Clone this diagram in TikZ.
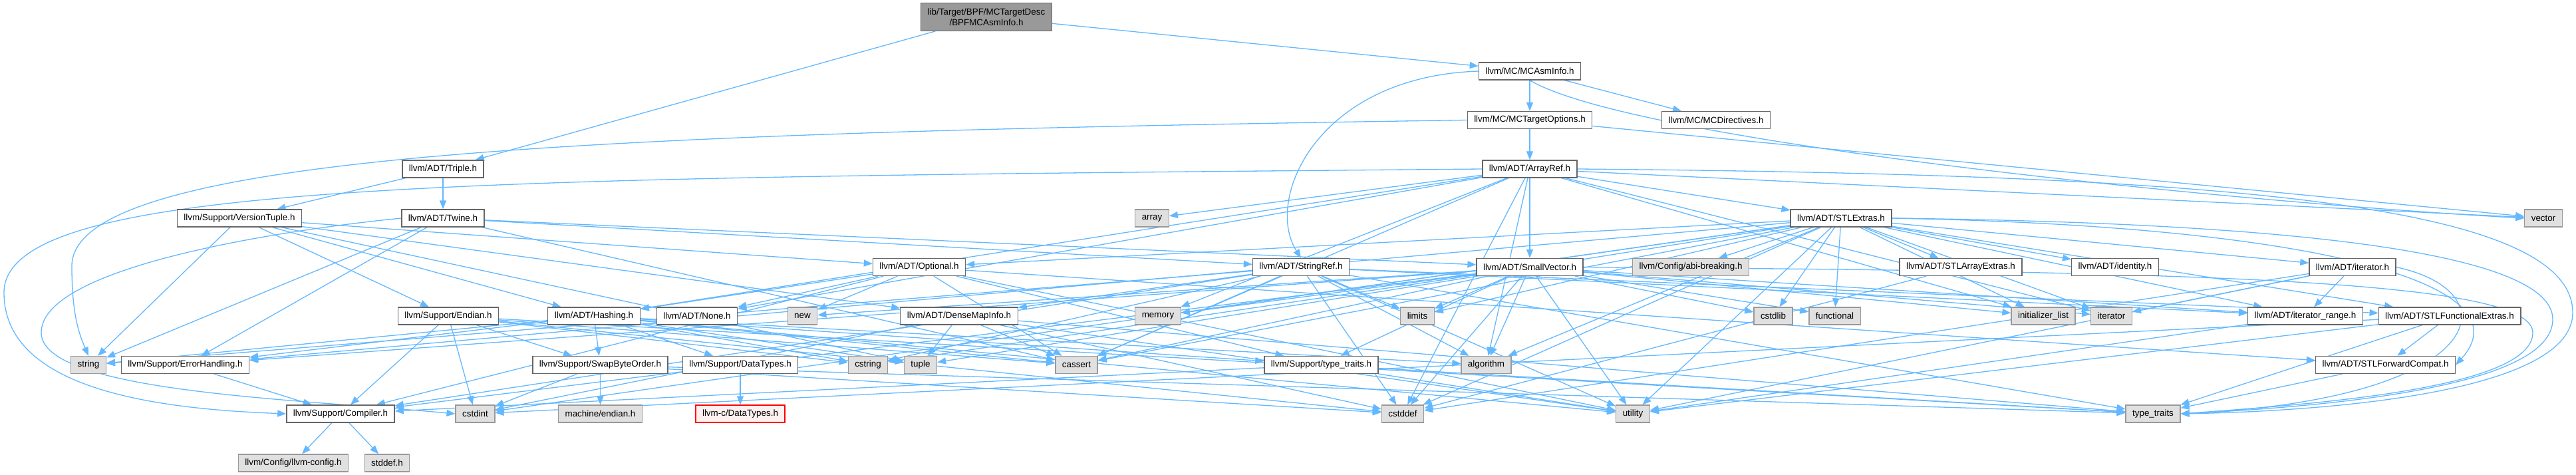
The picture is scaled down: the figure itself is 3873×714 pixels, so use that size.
\documentclass[tikz,border=0pt]{standalone}
\usepackage{fontspec}
\setsansfont{Liberation Sans}
\usetikzlibrary{arrows.meta,backgrounds}
\definecolor{edgeBlue}{HTML}{63B8FF}
\definecolor{hdrStroke}{HTML}{666666}
\definecolor{sysStroke}{HTML}{999999}
\definecolor{sysFill}{HTML}{E0E0E0}
\definecolor{mainFill}{HTML}{999999}
\definecolor{missFill}{HTML}{FFF0F0}

\begin{document}
\begin{tikzpicture}[
    x=1pt, y=-1pt,
    font=\sffamily\fontsize{13.4}{15.5}\selectfont,
    >={Triangle[length=13pt,width=10pt]},
    hdrNode/.style={
        rectangle, draw=hdrStroke, line width=1.3pt,
        fill=white, inner xsep=10pt, inner ysep=2pt,
        minimum height=26pt
    },
    sysNode/.style={hdrNode, draw=sysStroke, fill=sysFill},
    mainNode/.style={hdrNode, fill=mainFill, align=center, minimum height=41.6pt},
    missNode/.style={hdrNode, draw=red, fill=missFill},
    incl/.style={->, draw=edgeBlue, line width=1.3pt}
]
\useasboundingbox (0,0) rectangle (3873,714);

% Layout plan: one row per include depth, pixel coordinates, y grows downward.
\node[mainNode] (bpf) at (1483, 25.5) {lib/Target/BPF/MCTargetDesc\\/BPFMCAsmInfo.h};

\node[hdrNode] (mcasm) at (2300, 107) {llvm/MC/MCAsmInfo.h};

\node[hdrNode] (mcto) at (2300, 180.5) {llvm/MC/MCTargetOptions.h};
\node[hdrNode] (mcdir) at (2580, 180.5) {llvm/MC/MCDirectives.h};

\node[hdrNode] (triple) at (666, 254) {llvm/ADT/Triple.h};
\node[hdrNode] (arrayref) at (2300, 254) {llvm/ADT/ArrayRef.h};

\node[hdrNode] (vtuple) at (360, 328) {llvm/Support/VersionTuple.h};
\node[hdrNode] (twine) at (666, 328) {llvm/ADT/Twine.h};
\node[sysNode] (array) at (1732, 328) {array};
\node[hdrNode] (stlextras) at (2768, 328) {llvm/ADT/STLExtras.h};
\node[sysNode] (vector) at (3824, 328) {vector};

\node[hdrNode] (optional) at (1382, 401.5) {llvm/ADT/Optional.h};
\node[hdrNode] (stringref) at (1956, 401.5) {llvm/ADT/StringRef.h};
\node[hdrNode] (smallvec) at (2300, 401.5) {llvm/ADT/SmallVector.h};
\node[sysNode] (abibreak) at (2542, 401.5) {llvm/Config/abi-breaking.h};
\node[hdrNode] (stlarrayx) at (2948, 401.5) {llvm/ADT/STLArrayExtras.h};
\node[hdrNode] (identity) at (3180, 401.5) {llvm/ADT/identity.h};
\node[hdrNode] (iteratorh) at (3537, 401.5) {llvm/ADT/iterator.h};

\node[hdrNode] (endian) at (674, 475) {llvm/Support/Endian.h};
\node[hdrNode] (hashing) at (893, 475) {llvm/ADT/Hashing.h};
\node[hdrNode] (none) at (1048, 475) {llvm/ADT/None.h};
\node[sysNode] (new) at (1206.5, 475) {new};
\node[hdrNode] (densemap) at (1442, 475) {llvm/ADT/DenseMapInfo.h};
\node[sysNode] (memory) at (1741, 475) {memory};
\node[sysNode] (limits) at (2131, 475) {limits};
\node[sysNode] (cstdlib) at (2666, 475) {cstdlib};
\node[sysNode] (functional) at (2758.5, 475) {functional};
\node[sysNode] (initlist) at (3072, 475) {initializer\_list};
\node[sysNode] (iterator) at (3174.5, 475) {iterator};
\node[hdrNode] (iterrange) at (3466, 475) {llvm/ADT/iterator\_range.h};
\node[hdrNode] (stlfuncx) at (3683, 475) {llvm/ADT/STLFunctionalExtras.h};

\node[sysNode] (string) at (133, 548.5) {string};
\node[hdrNode] (errhand) at (278.5, 548.5) {llvm/Support/ErrorHandling.h};
\node[hdrNode] (swapbyte) at (902.5, 548.5) {llvm/Support/SwapByteOrder.h};
\node[hdrNode] (datatypes) at (1113, 548.5) {llvm/Support/DataTypes.h};
\node[sysNode] (cstring) at (1305, 548.5) {cstring};
\node[sysNode] (tuple) at (1384, 548.5) {tuple};
\node[sysNode] (cassert) at (1618.5, 548.5) {cassert};
\node[hdrNode] (suptraits) at (1986.5, 548.5) {llvm/Support/type\_traits.h};
\node[sysNode] (algorithm) at (2234.5, 548.5) {algorithm};
\node[hdrNode] (stlfwd) at (3586.5, 548.5) {llvm/ADT/STLForwardCompat.h};

\node[hdrNode] (compiler) at (512, 622) {llvm/Support/Compiler.h};
\node[sysNode] (cstdint) at (714.5, 622) {cstdint};
\node[sysNode] (mendian) at (902.5, 622) {machine/endian.h};
\node[missNode] (cdatatypes) at (1113, 622) {llvm-c/DataTypes.h};
\node[sysNode] (cstddef) at (2109, 622) {cstddef};
\node[sysNode] (utility) at (2455, 622) {utility};
\node[sysNode] (typetraits) at (3237, 622) {type\_traits};

\node[sysNode] (llvmconfig) at (441, 696) {llvm/Config/llvm-config.h};
\node[sysNode] (stddefh) at (582, 696) {stddef.h};

\begin{scope}[on background layer]
  \foreach \dst in {triple,mcasm} \draw[incl] (bpf) -- (\dst);
  \foreach \dst in {mcdir,mcto} \draw[incl] (mcasm) -- (\dst);
  \foreach \dst in {arrayref,vector} \draw[incl] (mcto) -- (\dst);
  \foreach \dst in {twine,vtuple} \draw[incl] (triple) -- (\dst);
  \foreach \dst in {hashing,none,smallvec,stlextras,algorithm,array,cassert,cstddef,initlist,iterator,memory,vector}
    \draw[incl] (arrayref) -- (\dst);
  \foreach \dst in {smallvec,stringref,errhand,cassert,string} \draw[incl] (twine) -- (\dst);
  \foreach \dst in {densemap,hashing,optional,endian,string,tuple} \draw[incl] (vtuple) -- (\dst);
  \foreach \dst in {optional,stlarrayx,stlfuncx,identity,iteratorh,iterrange,abibreak,errhand,algorithm,cassert,
                    cstddef,cstdint,cstdlib,functional,initlist,iterator,limits,memory,tuple,utility}
    \draw[incl] (stlextras) -- (\dst);
  \foreach \dst in {hashing,none,stlfwd,compiler,suptraits,cassert,new,utility} \draw[incl] (optional) -- (\dst);
  \foreach \dst in {densemap,stlfuncx,iterrange,compiler,algorithm,cassert,cstddef,cstring,limits,string,typetraits,utility}
    \draw[incl] (stringref) -- (\dst);
  \foreach \dst in {iterrange,compiler,errhand,suptraits,algorithm,cassert,cstddef,cstdlib,cstring,functional,
                    initlist,iterator,limits,memory,new,utility}
    \draw[incl] (smallvec) -- (\dst);
  \foreach \dst in {datatypes,errhand,swapbyte,suptraits,algorithm,cassert,cstring,string,tuple,utility}
    \draw[incl] (hashing) -- (\dst);
  \foreach \dst in {compiler,swapbyte,cassert,cstddef,cstdint,cstring,typetraits} \draw[incl] (endian) -- (\dst);
  \foreach \dst in {cassert,cstddef,cstdint,tuple,typetraits,utility} \draw[incl] (densemap) -- (\dst);
  \foreach \dst in {cstddef,cstdint,mendian,typetraits} \draw[incl] (swapbyte) -- (\dst);
  \draw[incl] (datatypes) -- (cdatatypes);
  \draw[incl] (errhand) -- (compiler);
  \foreach \dst in {llvmconfig,stddefh} \draw[incl] (compiler) -- (\dst);
  \foreach \dst in {compiler,typetraits,utility} \draw[incl] (suptraits) -- (\dst);
  \draw[incl] (stlarrayx) -- (cstddef);
  \foreach \dst in {iterrange,cstddef,iterator,utility} \draw[incl] (iteratorh) -- (\dst);
  \draw[incl] (iterrange) -- (utility);
  \foreach \dst in {stlfwd,cstdint,typetraits,utility} \draw[incl] (stlfuncx) -- (\dst);
  \draw[incl] (stlfwd) -- (typetraits);

  % long edges that go round the outside
  \draw[incl] (mcasm.west) .. controls (1980,115) and (1900,300) .. (stringref.north);
  \draw[incl] (mcasm.south) .. controls (2450,210) and (3300,300) .. (vector.west);
  \draw[incl] (mcto.west) .. controls (900,200) and (108,230) .. (108,400)
    .. controls (108,470) and (118,500) .. (string.north);
  \draw[incl] (arrayref.west) .. controls (700,268) and (6,270) .. (6,440)
    .. controls (6,590) and (250,615) .. (compiler.west);
  \draw[incl] (twine.west) .. controls (430,345) and (62,400) .. (62,500)
    .. controls (62,590) and (450,600) .. (cstdint.west);
  \draw[incl] (arrayref.east) .. controls (3300,262) and (3868,300) .. (3868,470)
    .. controls (3868,590) and (3500,618) .. (typetraits.east);
  \draw[incl] (stlextras.east) .. controls (3450,335) and (3838,380) .. (3838,480)
    .. controls (3838,585) and (3480,612) .. (typetraits.east);
  \draw[incl] (smallvec.east) .. controls (3300,408) and (3808,420) .. (3808,500)
    .. controls (3808,585) and (3470,608) .. (typetraits.east);
  \draw[incl] (iteratorh.east) .. controls (3780,440) and (3740,600) .. (typetraits.east);
  \draw[incl] (stlextras.east) .. controls (3500,340) and (3800,430) .. (stlfwd.east);
\end{scope}

\end{tikzpicture}
\end{document}
